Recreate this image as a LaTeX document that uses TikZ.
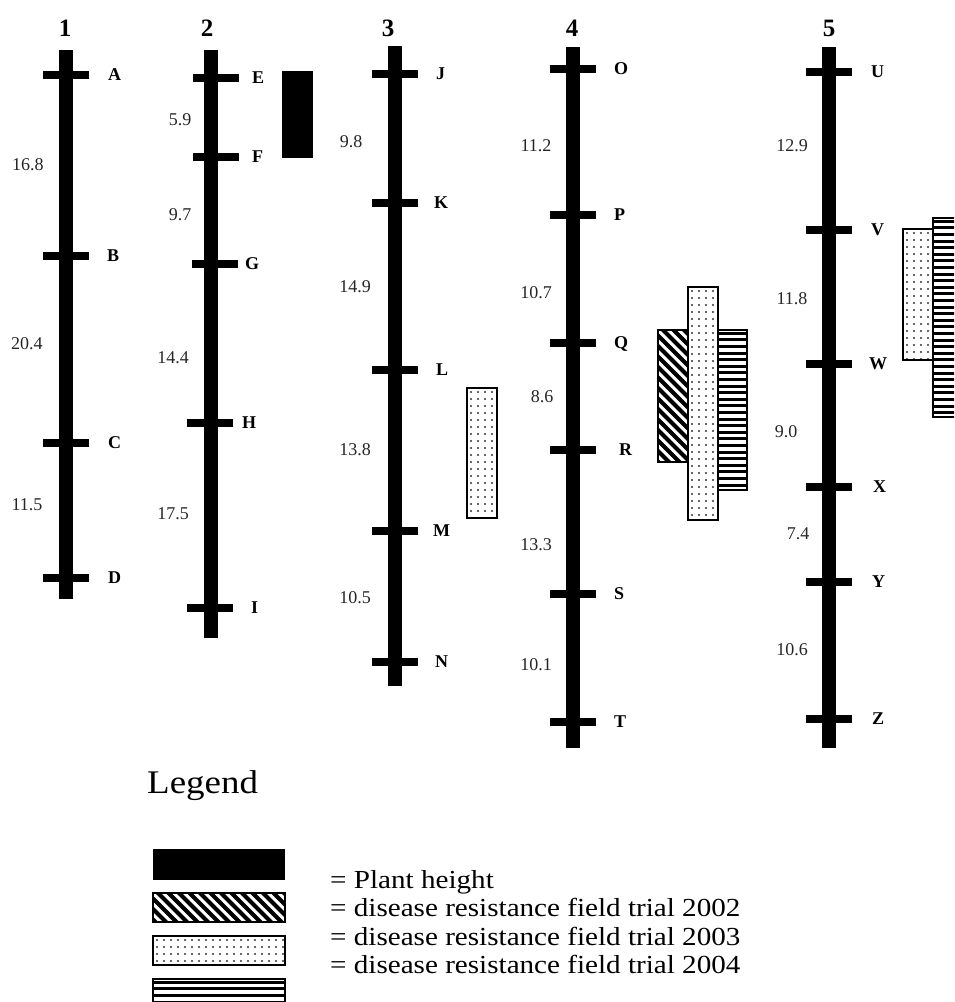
\documentclass[tikz,border=0pt]{standalone}
\usepackage{fontspec}
\setmainfont{Liberation Serif}
\newfontfamily\legfont[FakeStretch=1.12]{Liberation Serif}
\newcommand\chromo[4]{% name, x, top, bottom
  \coordinate (#1t) at (#2,#3);
  \coordinate (#1b) at (#2,#4);
  \draw[chrom] (#1t) -- (#1b);}
\newcommand\mk[6]{% name, chrom x, y, label x, letter, tick shift
  \coordinate (#1l) at (#2-23+#6,#3);
  \coordinate (#1r) at (#2+23+#6,#3);
  \draw[tickmark] (#1l) -- (#1r);
  \node[mlabel] (#1) at (#4,#3+5.5) {#5};}
\newcommand\hatchbox[4]{%
  \begin{scope}
    \clip (#1,#2) rectangle (#3,#4);
    \fill[white] (#1,#2) rectangle (#3,#4);
    \pgfmathtruncatemacro\hbmin{-(#4-#2)/10.5-2}
    \pgfmathtruncatemacro\hbmax{(#3-#1)/10.5+2}
    \foreach \k in {\hbmin,...,\hbmax}
      \draw[line width=4.2pt] (#1+10.5*\k,#2-5) -- ++(#4-#2+30,#4-#2+30);
  \end{scope}
  \draw[qtlbox] (#1,#2) rectangle (#3,#4);}
\newcommand\hlinebox[4]{%
  \begin{scope}
    \clip (#1,#2) rectangle (#3,#4);
    \fill[white] (#1,#2) rectangle (#3,#4);
    \pgfmathtruncatemacro\hlnum{(#4-#2)/6.6}
    \foreach \k in {0,...,\hlnum}
      \draw[line width=3pt] (#1,#2+3.3+6.6*\k) -- (#3,#2+3.3+6.6*\k);
  \end{scope}
  \draw[qtlbox] (#1,#2) rectangle (#3,#4);}
\newcommand\dotbox[4]{%
  \fill[white] (#1,#2) rectangle (#3,#4);
  \pgfmathtruncatemacro\dbnx{(#3-#1-2)/7}
  \pgfmathtruncatemacro\dbny{(#4-#2-2)/7}
  \begin{scope}
    \clip (#1,#2) rectangle (#3,#4);
    \foreach \i in {0,...,\dbnx}
      \foreach \j in {0,...,\dbny}
        \fill[black!80] (#1+4+7*\i,#2+4+7*\j) circle[radius=1.2pt];
  \end{scope}
  \draw[qtlbox] (#1,#2) rectangle (#3,#4);}
\begin{document}
\begin{tikzpicture}[x=1pt,y=-1pt,
  chrom/.style={line width=14.5pt},
  tickmark/.style={line width=8pt},
  mlabel/.style={font=\fontsize{18}{20}\selectfont\bfseries, anchor=base west, inner sep=0pt},
  dlabel/.style={font=\fontsize{18}{20}\selectfont, text=black!85, inner sep=0pt},
  cnum/.style={font=\fontsize{25}{27}\selectfont\bfseries, anchor=base, inner sep=0pt},
  legtext/.style={font=\legfont\fontsize{26}{28}\selectfont, anchor=base west, inner sep=0pt},
  qtlbox/.style={draw=black, line width=1.3pt},
]
\useasboundingbox (0,0) rectangle (954,1002);
\clip (0,0) rectangle (954,1002);
\fill[white] (0,0) rectangle (954,1002);

% ---------- chromosome 1
\node[cnum] (c1) at (65,36) {1};
\chromo{k1}{66}{50}{599}
\mk{mA}{66}{75}{108}{A}{0}
\mk{mB}{66}{256}{107}{B}{0}
\mk{mC}{66}{443}{108}{C}{0}
\mk{mD}{66}{578}{108}{D}{0}
\node[dlabel] (d11) at (28,165) {16.8};
\node[dlabel] (d12) at (27,344) {20.4};
\node[dlabel] (d13) at (27,505) {11.5};

% ---------- chromosome 2
\node[cnum] (c2) at (207,36) {2};
\chromo{k2}{211}{50}{638}
\mk{mE}{211}{78}{252}{E}{5}
\mk{mF}{211}{157}{252}{F}{5}
\mk{mG}{211}{264}{245}{G}{4}
\mk{mH}{211}{423}{242}{H}{-1}
\mk{mI}{211}{608}{251}{I}{-1}
\node[dlabel] (d21) at (180,120) {5.9};
\node[dlabel] (d22) at (180,215) {9.7};
\node[dlabel] (d23) at (173,358) {14.4};
\node[dlabel] (d24) at (173,514) {17.5};
\fill[black] (282,71) rectangle (313,158);

% ---------- chromosome 3
\node[cnum] (c3) at (388,36) {3};
\chromo{k3}{395}{46}{686}
\mk{mJ}{395}{74}{436}{J}{0}
\mk{mK}{395}{203}{434}{K}{0}
\mk{mL}{395}{370}{436}{L}{0}
\mk{mM}{395}{531}{433}{M}{0}
\mk{mN}{395}{662}{435}{N}{0}
\node[dlabel] (d31) at (351,142) {9.8};
\node[dlabel] (d32) at (355,287) {14.9};
\node[dlabel] (d33) at (355,450) {13.8};
\node[dlabel] (d34) at (355,598) {10.5};
\dotbox{467}{388}{497}{518}

% ---------- chromosome 4
\node[cnum] (c4) at (572,36) {4};
\chromo{k4}{573}{47}{748}
\mk{mO}{573}{69}{614}{O}{0}
\mk{mP}{573}{215}{614}{P}{0}
\mk{mQ}{573}{343}{614}{Q}{0}
\mk{mR}{573}{450}{619}{R}{0}
\mk{mS}{573}{594}{614}{S}{0}
\mk{mT}{573}{722}{614}{T}{0}
\node[dlabel] (d41) at (536,146) {11.2};
\node[dlabel] (d42) at (536,293) {10.7};
\node[dlabel] (d43) at (542,397) {8.6};
\node[dlabel] (d44) at (536,545) {13.3};
\node[dlabel] (d45) at (536,665) {10.1};
\hatchbox{658}{330}{688}{462}
\hlinebox{718}{330}{747}{490}
\dotbox{688}{287}{718}{520}

% ---------- chromosome 5
\node[cnum] (c5) at (829,36) {5};
\chromo{k5}{829}{47}{748}
\mk{mU}{829}{72}{871}{U}{0}
\mk{mV}{829}{230}{871}{V}{0}
\mk{mW}{829}{364}{869}{W}{0}
\mk{mX}{829}{487}{873}{X}{0}
\mk{mY}{829}{582}{872}{Y}{0}
\mk{mZ}{829}{719}{872}{Z}{0}
\node[dlabel] (d51) at (792,146) {12.9};
\node[dlabel] (d52) at (792,299) {11.8};
\node[dlabel] (d53) at (786,432) {9.0};
\node[dlabel] (d54) at (798,534) {7.4};
\node[dlabel] (d55) at (792,650) {10.6};
\hlinebox{933}{218}{962}{417}
\dotbox{903}{229}{933}{360}

% ---------- legend
\node[font=\legfont\fontsize{33}{35}\selectfont, anchor=base west, inner sep=0pt] (leg) at (147,793) {Legend};
\fill[black] (153,849) rectangle (285,880);
\hatchbox{153}{893}{285}{922}
\dotbox{153}{936}{285}{965}
\hlinebox{153}{979}{285}{1010}
\node[legtext] (l1) at (330,888) {= Plant height};
\node[legtext] (l2) at (330,916.5) {= disease resistance field trial 2002};
\node[legtext] (l3) at (330,945) {= disease resistance field trial 2003};
\node[legtext] (l4) at (330,973.5) {= disease resistance field trial 2004};
\end{tikzpicture}
\end{document}
